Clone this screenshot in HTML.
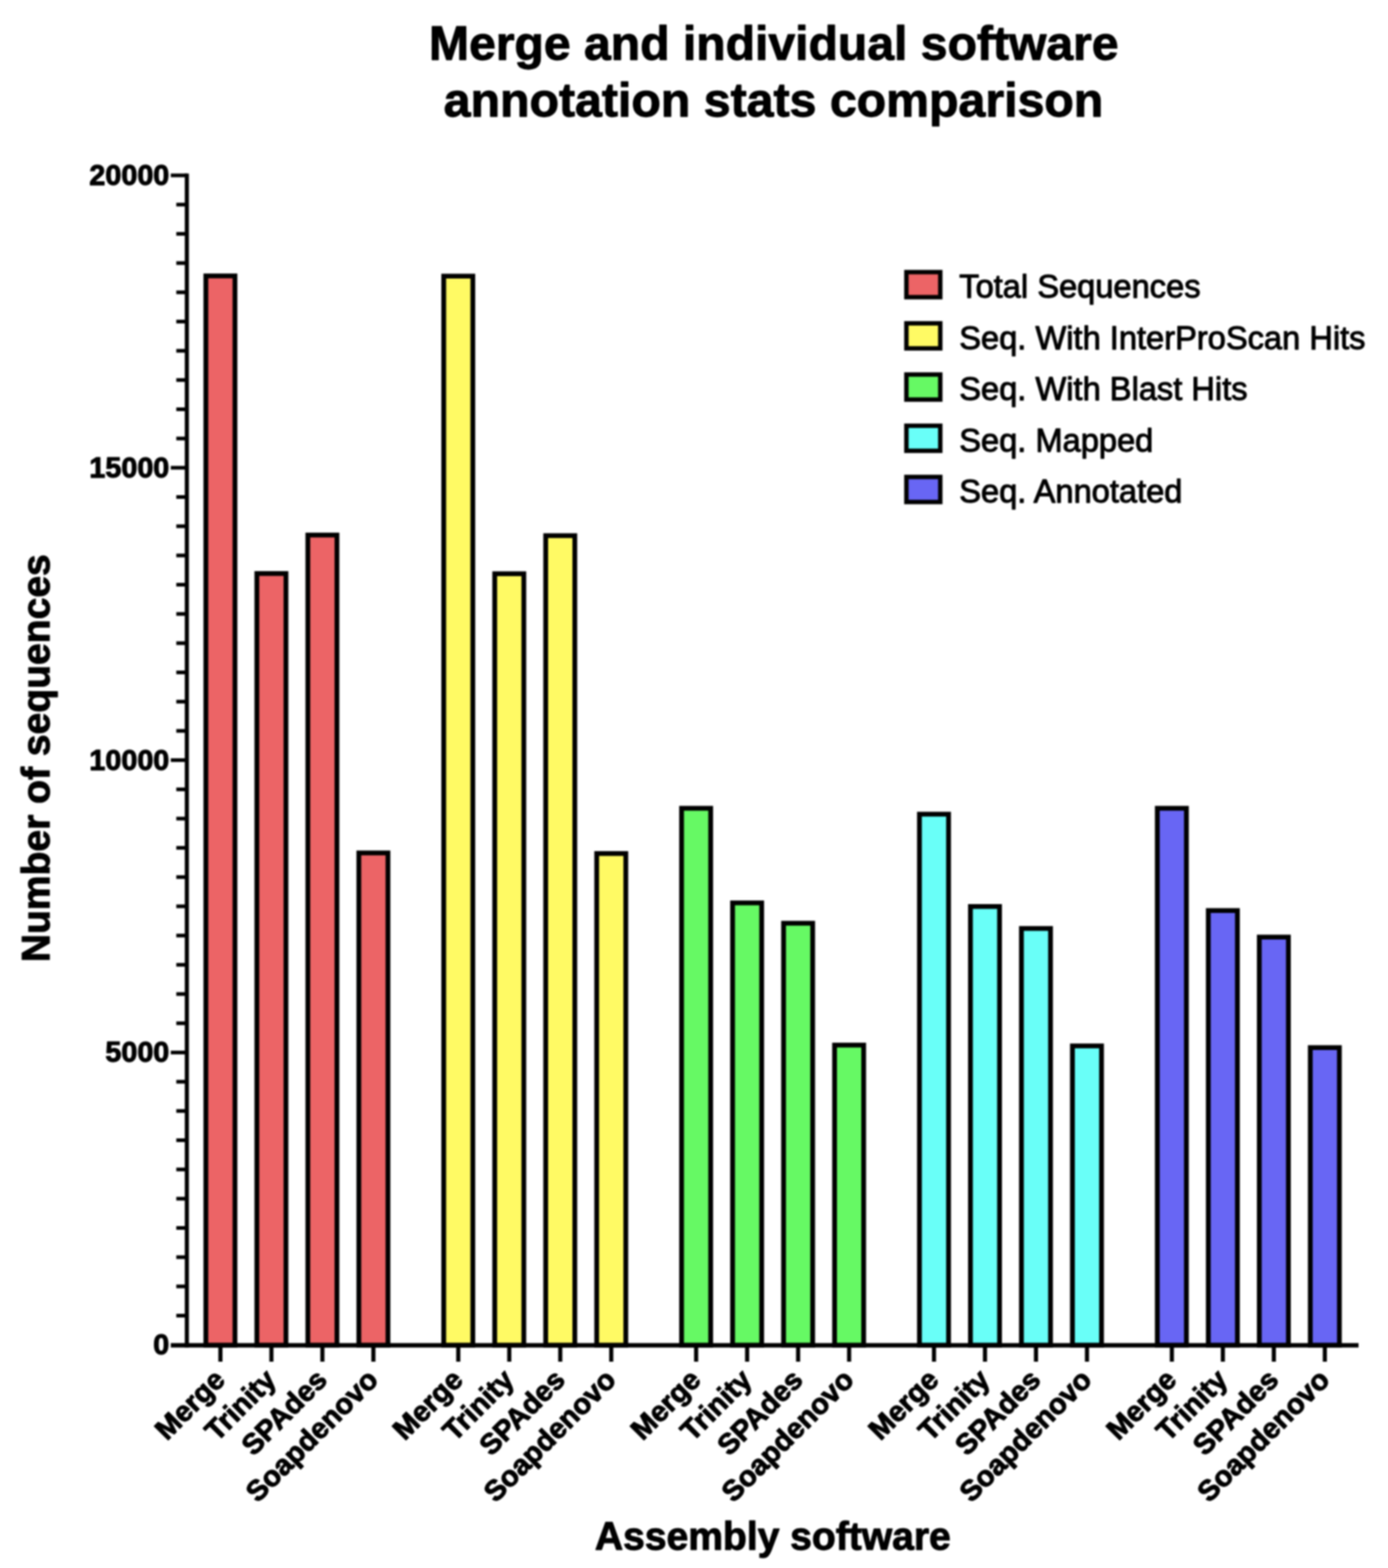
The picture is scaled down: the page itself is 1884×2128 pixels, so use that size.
<!DOCTYPE html><html><head><meta charset="utf-8"><title>Merge and individual software annotation stats comparison</title>
<style>html,body{margin:0;padding:0;background:#fff;overflow:hidden;}svg{display:block;filter:blur(1px);}text{font-family:"Liberation Sans",Arial,Helvetica,sans-serif;fill:#000;stroke:#000;stroke-width:1.3px;stroke-linejoin:round;}</style></head><body>
<svg width="1884" height="2128" viewBox="0 0 1884 2128">
<rect x="0" y="0" width="1884" height="2128" fill="#fff"/>
<text x="1050.3" y="80.8" font-size="65.3" font-weight="bold" text-anchor="middle">Merge and individual software</text>
<text x="1050" y="158.3" font-size="65.5" font-weight="bold" text-anchor="middle">annotation stats comparison</text>
<rect x="279.43" y="374.45" width="39.50" height="1451.25" fill="#EC6466" stroke="#000" stroke-width="6.5"/>
<rect x="348.65" y="778.35" width="39.50" height="1047.35" fill="#EC6466" stroke="#000" stroke-width="6.5"/>
<rect x="417.86" y="726.15" width="39.50" height="1099.55" fill="#EC6466" stroke="#000" stroke-width="6.5"/>
<rect x="487.08" y="1157.55" width="39.50" height="668.15" fill="#EC6466" stroke="#000" stroke-width="6.5"/>
<rect x="602.29" y="374.75" width="39.50" height="1450.95" fill="#FFFA64" stroke="#000" stroke-width="6.5"/>
<rect x="671.51" y="778.65" width="39.50" height="1047.05" fill="#FFFA64" stroke="#000" stroke-width="6.5"/>
<rect x="740.72" y="726.95" width="39.50" height="1098.75" fill="#FFFA64" stroke="#000" stroke-width="6.5"/>
<rect x="809.94" y="1158.35" width="39.50" height="667.35" fill="#FFFA64" stroke="#000" stroke-width="6.5"/>
<rect x="925.15" y="1096.95" width="39.50" height="728.75" fill="#66F964" stroke="#000" stroke-width="6.5"/>
<rect x="994.37" y="1225.35" width="39.50" height="600.35" fill="#66F964" stroke="#000" stroke-width="6.5"/>
<rect x="1063.58" y="1252.95" width="39.50" height="572.75" fill="#66F964" stroke="#000" stroke-width="6.5"/>
<rect x="1132.80" y="1418.35" width="39.50" height="407.35" fill="#66F964" stroke="#000" stroke-width="6.5"/>
<rect x="1248.01" y="1104.95" width="39.50" height="720.75" fill="#69FFF8" stroke="#000" stroke-width="6.5"/>
<rect x="1317.23" y="1230.25" width="39.50" height="595.45" fill="#69FFF8" stroke="#000" stroke-width="6.5"/>
<rect x="1386.44" y="1260.05" width="39.50" height="565.65" fill="#69FFF8" stroke="#000" stroke-width="6.5"/>
<rect x="1455.66" y="1419.45" width="39.50" height="406.25" fill="#69FFF8" stroke="#000" stroke-width="6.5"/>
<rect x="1570.87" y="1096.95" width="39.50" height="728.75" fill="#6866F4" stroke="#000" stroke-width="6.5"/>
<rect x="1640.09" y="1235.75" width="39.50" height="589.95" fill="#6866F4" stroke="#000" stroke-width="6.5"/>
<rect x="1709.30" y="1271.75" width="39.50" height="553.95" fill="#6866F4" stroke="#000" stroke-width="6.5"/>
<rect x="1778.52" y="1421.75" width="39.50" height="403.95" fill="#6866F4" stroke="#000" stroke-width="6.5"/>
<line x1="253.6" y1="235.4" x2="253.6" y2="1828.7" stroke="#000" stroke-width="5.6"/>
<line x1="239.3" y1="1785.52" x2="253.6" y2="1785.52" stroke="#000" stroke-width="5"/>
<line x1="239.3" y1="1745.84" x2="253.6" y2="1745.84" stroke="#000" stroke-width="5"/>
<line x1="239.3" y1="1706.16" x2="253.6" y2="1706.16" stroke="#000" stroke-width="5"/>
<line x1="239.3" y1="1666.48" x2="253.6" y2="1666.48" stroke="#000" stroke-width="5"/>
<line x1="239.3" y1="1626.80" x2="253.6" y2="1626.80" stroke="#000" stroke-width="5"/>
<line x1="239.3" y1="1587.12" x2="253.6" y2="1587.12" stroke="#000" stroke-width="5"/>
<line x1="239.3" y1="1547.44" x2="253.6" y2="1547.44" stroke="#000" stroke-width="5"/>
<line x1="239.3" y1="1507.76" x2="253.6" y2="1507.76" stroke="#000" stroke-width="5"/>
<line x1="239.3" y1="1468.08" x2="253.6" y2="1468.08" stroke="#000" stroke-width="5"/>
<line x1="231.8" y1="1428.40" x2="253.6" y2="1428.40" stroke="#000" stroke-width="5"/>
<line x1="239.3" y1="1388.72" x2="253.6" y2="1388.72" stroke="#000" stroke-width="5"/>
<line x1="239.3" y1="1349.04" x2="253.6" y2="1349.04" stroke="#000" stroke-width="5"/>
<line x1="239.3" y1="1309.36" x2="253.6" y2="1309.36" stroke="#000" stroke-width="5"/>
<line x1="239.3" y1="1269.68" x2="253.6" y2="1269.68" stroke="#000" stroke-width="5"/>
<line x1="239.3" y1="1230.00" x2="253.6" y2="1230.00" stroke="#000" stroke-width="5"/>
<line x1="239.3" y1="1190.32" x2="253.6" y2="1190.32" stroke="#000" stroke-width="5"/>
<line x1="239.3" y1="1150.64" x2="253.6" y2="1150.64" stroke="#000" stroke-width="5"/>
<line x1="239.3" y1="1110.96" x2="253.6" y2="1110.96" stroke="#000" stroke-width="5"/>
<line x1="239.3" y1="1071.28" x2="253.6" y2="1071.28" stroke="#000" stroke-width="5"/>
<line x1="231.8" y1="1031.60" x2="253.6" y2="1031.60" stroke="#000" stroke-width="5"/>
<line x1="239.3" y1="991.92" x2="253.6" y2="991.92" stroke="#000" stroke-width="5"/>
<line x1="239.3" y1="952.24" x2="253.6" y2="952.24" stroke="#000" stroke-width="5"/>
<line x1="239.3" y1="912.56" x2="253.6" y2="912.56" stroke="#000" stroke-width="5"/>
<line x1="239.3" y1="872.88" x2="253.6" y2="872.88" stroke="#000" stroke-width="5"/>
<line x1="239.3" y1="833.20" x2="253.6" y2="833.20" stroke="#000" stroke-width="5"/>
<line x1="239.3" y1="793.52" x2="253.6" y2="793.52" stroke="#000" stroke-width="5"/>
<line x1="239.3" y1="753.84" x2="253.6" y2="753.84" stroke="#000" stroke-width="5"/>
<line x1="239.3" y1="714.16" x2="253.6" y2="714.16" stroke="#000" stroke-width="5"/>
<line x1="239.3" y1="674.48" x2="253.6" y2="674.48" stroke="#000" stroke-width="5"/>
<line x1="231.8" y1="634.80" x2="253.6" y2="634.80" stroke="#000" stroke-width="5"/>
<line x1="239.3" y1="595.12" x2="253.6" y2="595.12" stroke="#000" stroke-width="5"/>
<line x1="239.3" y1="555.44" x2="253.6" y2="555.44" stroke="#000" stroke-width="5"/>
<line x1="239.3" y1="515.76" x2="253.6" y2="515.76" stroke="#000" stroke-width="5"/>
<line x1="239.3" y1="476.08" x2="253.6" y2="476.08" stroke="#000" stroke-width="5"/>
<line x1="239.3" y1="436.40" x2="253.6" y2="436.40" stroke="#000" stroke-width="5"/>
<line x1="239.3" y1="396.72" x2="253.6" y2="396.72" stroke="#000" stroke-width="5"/>
<line x1="239.3" y1="357.04" x2="253.6" y2="357.04" stroke="#000" stroke-width="5"/>
<line x1="239.3" y1="317.36" x2="253.6" y2="317.36" stroke="#000" stroke-width="5"/>
<line x1="239.3" y1="277.68" x2="253.6" y2="277.68" stroke="#000" stroke-width="5"/>
<line x1="231.8" y1="238.00" x2="253.6" y2="238.00" stroke="#000" stroke-width="5"/>
<line x1="231.8" y1="1825.7" x2="1844" y2="1825.7" stroke="#000" stroke-width="6"/>
<line x1="299.18" y1="1825.7" x2="299.18" y2="1848" stroke="#000" stroke-width="5.6"/>
<line x1="368.40" y1="1825.7" x2="368.40" y2="1848" stroke="#000" stroke-width="5.6"/>
<line x1="437.61" y1="1825.7" x2="437.61" y2="1848" stroke="#000" stroke-width="5.6"/>
<line x1="506.83" y1="1825.7" x2="506.83" y2="1848" stroke="#000" stroke-width="5.6"/>
<line x1="622.04" y1="1825.7" x2="622.04" y2="1848" stroke="#000" stroke-width="5.6"/>
<line x1="691.26" y1="1825.7" x2="691.26" y2="1848" stroke="#000" stroke-width="5.6"/>
<line x1="760.47" y1="1825.7" x2="760.47" y2="1848" stroke="#000" stroke-width="5.6"/>
<line x1="829.69" y1="1825.7" x2="829.69" y2="1848" stroke="#000" stroke-width="5.6"/>
<line x1="944.90" y1="1825.7" x2="944.90" y2="1848" stroke="#000" stroke-width="5.6"/>
<line x1="1014.12" y1="1825.7" x2="1014.12" y2="1848" stroke="#000" stroke-width="5.6"/>
<line x1="1083.33" y1="1825.7" x2="1083.33" y2="1848" stroke="#000" stroke-width="5.6"/>
<line x1="1152.55" y1="1825.7" x2="1152.55" y2="1848" stroke="#000" stroke-width="5.6"/>
<line x1="1267.76" y1="1825.7" x2="1267.76" y2="1848" stroke="#000" stroke-width="5.6"/>
<line x1="1336.98" y1="1825.7" x2="1336.98" y2="1848" stroke="#000" stroke-width="5.6"/>
<line x1="1406.19" y1="1825.7" x2="1406.19" y2="1848" stroke="#000" stroke-width="5.6"/>
<line x1="1475.41" y1="1825.7" x2="1475.41" y2="1848" stroke="#000" stroke-width="5.6"/>
<line x1="1590.62" y1="1825.7" x2="1590.62" y2="1848" stroke="#000" stroke-width="5.6"/>
<line x1="1659.84" y1="1825.7" x2="1659.84" y2="1848" stroke="#000" stroke-width="5.6"/>
<line x1="1729.05" y1="1825.7" x2="1729.05" y2="1848" stroke="#000" stroke-width="5.6"/>
<line x1="1798.27" y1="1825.7" x2="1798.27" y2="1848" stroke="#000" stroke-width="5.6"/>
<text x="229.8" y="251.00" font-size="39" font-weight="bold" text-anchor="end">20000</text>
<text x="229.8" y="647.80" font-size="39" font-weight="bold" text-anchor="end">15000</text>
<text x="229.8" y="1044.60" font-size="39" font-weight="bold" text-anchor="end">10000</text>
<text x="229.8" y="1441.40" font-size="39" font-weight="bold" text-anchor="end">5000</text>
<text x="229.8" y="1838.20" font-size="39" font-weight="bold" text-anchor="end">0</text>
<text transform="translate(307.68,1875.00) rotate(-45)" font-size="39" font-weight="bold" text-anchor="end">Merge</text>
<text transform="translate(376.90,1875.00) rotate(-45)" font-size="39" font-weight="bold" text-anchor="end">Trinity</text>
<text transform="translate(446.11,1875.00) rotate(-45)" font-size="39" font-weight="bold" text-anchor="end">SPAdes</text>
<text transform="translate(515.33,1875.00) rotate(-45)" font-size="39" font-weight="bold" text-anchor="end">Soapdenovo</text>
<text transform="translate(630.54,1875.00) rotate(-45)" font-size="39" font-weight="bold" text-anchor="end">Merge</text>
<text transform="translate(699.76,1875.00) rotate(-45)" font-size="39" font-weight="bold" text-anchor="end">Trinity</text>
<text transform="translate(768.97,1875.00) rotate(-45)" font-size="39" font-weight="bold" text-anchor="end">SPAdes</text>
<text transform="translate(838.19,1875.00) rotate(-45)" font-size="39" font-weight="bold" text-anchor="end">Soapdenovo</text>
<text transform="translate(953.40,1875.00) rotate(-45)" font-size="39" font-weight="bold" text-anchor="end">Merge</text>
<text transform="translate(1022.62,1875.00) rotate(-45)" font-size="39" font-weight="bold" text-anchor="end">Trinity</text>
<text transform="translate(1091.83,1875.00) rotate(-45)" font-size="39" font-weight="bold" text-anchor="end">SPAdes</text>
<text transform="translate(1161.05,1875.00) rotate(-45)" font-size="39" font-weight="bold" text-anchor="end">Soapdenovo</text>
<text transform="translate(1276.26,1875.00) rotate(-45)" font-size="39" font-weight="bold" text-anchor="end">Merge</text>
<text transform="translate(1345.48,1875.00) rotate(-45)" font-size="39" font-weight="bold" text-anchor="end">Trinity</text>
<text transform="translate(1414.69,1875.00) rotate(-45)" font-size="39" font-weight="bold" text-anchor="end">SPAdes</text>
<text transform="translate(1483.91,1875.00) rotate(-45)" font-size="39" font-weight="bold" text-anchor="end">Soapdenovo</text>
<text transform="translate(1599.12,1875.00) rotate(-45)" font-size="39" font-weight="bold" text-anchor="end">Merge</text>
<text transform="translate(1668.34,1875.00) rotate(-45)" font-size="39" font-weight="bold" text-anchor="end">Trinity</text>
<text transform="translate(1737.55,1875.00) rotate(-45)" font-size="39" font-weight="bold" text-anchor="end">SPAdes</text>
<text transform="translate(1806.77,1875.00) rotate(-45)" font-size="39" font-weight="bold" text-anchor="end">Soapdenovo</text>
<text transform="translate(67,1029) rotate(-90)" font-size="53" font-weight="bold" text-anchor="middle">Number of sequences</text>
<text x="1049" y="2102.5" font-size="53" font-weight="bold" text-anchor="middle">Assembly software</text>
<rect x="1230.3" y="369.30" width="46" height="34" fill="#EC6466" stroke="#000" stroke-width="6"/>
<text x="1302" y="404.00" font-size="44.3">Total Sequences</text>
<rect x="1230.3" y="438.80" width="46" height="34" fill="#FFFA64" stroke="#000" stroke-width="6"/>
<text x="1302" y="473.50" font-size="44.3">Seq. With InterProScan Hits</text>
<rect x="1230.3" y="508.30" width="46" height="34" fill="#66F964" stroke="#000" stroke-width="6"/>
<text x="1302" y="543.00" font-size="44.3">Seq. With Blast Hits</text>
<rect x="1230.3" y="577.80" width="46" height="34" fill="#69FFF8" stroke="#000" stroke-width="6"/>
<text x="1302" y="612.50" font-size="44.3">Seq. Mapped</text>
<rect x="1230.3" y="647.30" width="46" height="34" fill="#6866F4" stroke="#000" stroke-width="6"/>
<text x="1302" y="682.00" font-size="44.3">Seq. Annotated</text>
</svg></body></html>
